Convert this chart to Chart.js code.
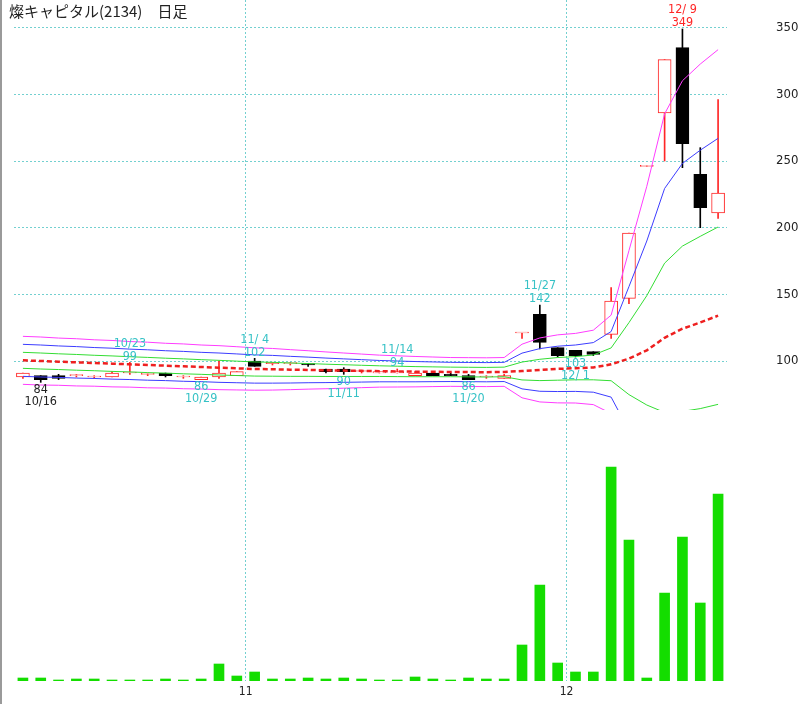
<!DOCTYPE html>
<html>
<head>
<meta charset="utf-8">
<script src="https://cdn.jsdelivr.net/npm/chart.js@4.4.1/dist/chart.umd.min.js"></script>
<style>
  html, body { margin: 0; padding: 0; background: #fff; }
  #wrap { position: relative; width: 800px; height: 704px; }
  #title { position: absolute; left: 9px; top: 0px; font: 15px "Noto Sans CJK JP", sans-serif; color: #222; }
</style>
</head>
<body>
<div id="wrap">
  <canvas id="chart" width="800" height="704"></canvas>
  <div id="title">燦キャピタル(2134)　日足</div>
</div>
<script>
// daily candles, 2014-10-15 .. 2014-12-11
const dates = ['10/15','10/16','10/17','10/20','10/21','10/22','10/23','10/24','10/27','10/28',
  '10/29','10/30','10/31','11/4','11/5','11/6','11/7','11/10','11/11','11/12',
  '11/13','11/14','11/17','11/18','11/19','11/20','11/21','11/25','11/26','11/27',
  '11/28','12/1','12/2','12/3','12/4','12/5','12/8','12/9','12/10','12/11'];
const opens  = [88,89,89,89,88,88,91,90,91,88, 86,88,89,100,98,98,98,94,94,92, 91,91,89,91,90,89,88,87,121,135, 110,108,107,120,147,246,286,335,240,211];
const highs  = [91,89,90,90,89,92,99,91,91,89, 88,100,92,102,99,99,98,94,95,93, 92,94,92,91,91,90,89,90,121,142, 110,108,107,155,196,246,326,349,260,296];
const lows   = [87,84,86,88,87,88,90,89,88,87, 86,87,89,96,97,97,96,91,90,91, 91,91,89,89,89,86,87,87,117,109, 103,103,104,117,143,246,250,245,200,207];
const closes = [91,86,87,89,88,91,91,90,89,88, 88,91,92,96,99,98,97,92,92,92, 92,92,91,89,89,86,88,89,121,114, 104,104,105,145,196,246,326,263,215,226];
const volumes = [3,3,1,2,2,1,1,1,2,1, 2,17,5,9,2,2,3,2,3,2, 1,1,4,2,1,3,2,2,36,96, 18,9,9,214,141,3,88,144,78,187];

// 25-day moving average and bollinger bands (+-1, 2, 3 sigma)
const ma25 = [100.5,100,99.5,99,98.5,98,97.5,97,96.5,96, 95.5,95,94.5,94,93.8,93.5,93.3,93,92.8,92.6, 92.4,92.2,92,91.9,91.8,91.7,91.6,91.8,92.5,93.3, 94.1,94.6,95.2,97.5,101.8,108,117.4,124.2,128.9,134];
const band1Up = [106.5,106,105.4,104.9,104.3,103.8,103.2,102.7,102.1,101.6, 101,100.5,99.9,99.3,99,98.5,98.1,97.6,97.2,96.8, 96.4,96.1,95.8,95.6,95.4,95.3,95.2,95.4,99.2,101.3, 102.6,103.3,104.5,109.8,128.8,149,173.4,186.2,193.5,200.5];
const band2Up = [112.5,112,111.3,110.8,110.1,109.6,108.9,108.4,107.7,107.2, 106.5,106,105.3,104.6,104.2,103.5,102.9,102.2,101.6,101, 100.4,100,99.6,99.3,99,98.9,98.8,99,105.9,109.3, 111.1,112,113.8,122.1,155.8,190,229.4,248.2,258.1,267];
const band3Up = [118.5,118,117.2,116.7,115.9,115.4,114.6,114.1,113.3,112.8, 112,111.5,110.7,109.9,109.4,108.5,107.7,106.8,106,105.2, 104.4,103.9,103.4,103,102.6,102.5,102.4,102.6,112.6,117.3, 119.6,120.7,123.1,134.4,182.8,231,285.4,310.2,322.7,333.5];
const band1Dn = [94.5,94,93.6,93.1,92.7,92.2,91.8,91.3,90.9,90.4, 90,89.5,89.1,88.7,88.6,88.5,88.5,88.4,88.4,88.4, 88.4,88.3,88.2,88.2,88.2,88.1,88,88.2,85.8,85.3, 85.6,85.9,85.9,85.2,74.8,67,61.4,62.2,64.3,67.5];
const band2Dn = [88.5,88,87.7,87.2,86.9,86.4,86.1,85.6,85.3,84.8, 84.5,84,83.7,83.4,83.4,83.5,83.7,83.8,84,84.2, 84.4,84.4,84.4,84.5,84.6,84.5,84.4,84.6,79.1,77.3, 77.1,77.2,76.6,72.9,47.8,26,5.4,0.2,-0.3,1];
const band3Dn = [82.5,82,81.8,81.3,81.1,80.6,80.4,79.9,79.7,79.2, 79,78.5,78.3,78.1,78.2,78.5,78.9,79.2,79.6,80, 80.4,80.5,80.6,80.8,81,80.9,80.8,81,72.4,69.3, 68.6,68.5,67.3,60.6,20.8,-15,-50.6,-61.8,-64.9,-65.5];

const priceTicks = [100, 150, 200, 250, 300, 350];
// candles that carry a date/price note
const highMarks = [6, 13, 21, 29, 37];
const lowMarks = [1, 10, 18, 25, 31];

const UP = '#ff2626';
const DOWN = '#000';
const CYAN = '#36c2c6';
const GRID = 'rgba(90,200,200,0.85)';
const NARROW = "'Liberation Sans Narrow', 'DejaVu Sans Condensed', sans-serif";

const isUp = (i) => closes[i] >= opens[i];
const fmtDate = (s) => {
    const [m, d] = s.split('/');
    return m + '/' + d.padStart(2, ' ');
};

function band(label, data, color, extra) {
    return Object.assign({
        type: 'line', label, data, yAxisID: 'y',
        borderColor: color, borderWidth: 1,
        pointRadius: 0, tension: 0, order: 0
    }, extra || {});
}

const noPad = (scale) => {
    scale.paddingTop = 0; scale.paddingBottom = 0;
    scale.paddingLeft = 0; scale.paddingRight = 0;
};

const notes = {
    id: 'notes',
    afterDatasetsDraw(chart) {
        const { ctx, scales: { x, y } } = chart;
        const maxI = highs.indexOf(Math.max(...highs));
        const minI = lows.indexOf(Math.min(...lows));
        ctx.save();
        ctx.font = '12.5px ' + NARROW;
        ctx.textAlign = 'center';
        ctx.textBaseline = 'middle';
        highMarks.forEach((i) => {
            const px = x.getPixelForValue(i);
            const py = y.getPixelForValue(highs[i]);
            ctx.fillStyle = i === maxI ? UP : CYAN;
            ctx.fillText(fmtDate(dates[i]), px, py - 19);
            ctx.fillText(String(highs[i]), px, py - 6);
        });
        lowMarks.forEach((i) => {
            const px = x.getPixelForValue(i);
            const py = y.getPixelForValue(lows[i]);
            ctx.fillStyle = i === minI ? '#222' : CYAN;
            ctx.fillText(String(lows[i]), px, py + 7);
            ctx.fillText(fmtDate(dates[i]), px, py + 19);
        });
        // month labels under the volume panel
        ctx.fillStyle = '#222';
        ctx.font = '12px ' + NARROW;
        for (let i = 1; i < dates.length; i++) {
            const m = dates[i].split('/')[0];
            if (m !== dates[i - 1].split('/')[0]) {
                const px = (x.getPixelForValue(i - 1) + x.getPixelForValue(i)) / 2;
                ctx.fillText(m, px, chart.chartArea.bottom + 11);
            }
        }
        ctx.fillStyle = '#9a9a9a';
        ctx.fillRect(0, 0, 2, chart.height);
        ctx.restore();
    }
};

new Chart(document.getElementById('chart'), {
    type: 'bar',
    data: {
        labels: dates,
        datasets: [
            band('+3σ', band3Up, '#ff3cff'),
            band('+2σ', band2Up, '#3c3cff'),
            band('+1σ', band1Up, '#33dd33'),
            band('25日平均', ma25, '#ee2020', { borderWidth: 2.5, borderDash: [5, 3] }),
            band('-1σ', band1Dn, '#33dd33'),
            band('-2σ', band2Dn, '#3c3cff'),
            band('-3σ', band3Dn, '#ff3cff'),
            {
                label: '実体',
                data: opens.map((o, i) => [o, closes[i]]),
                yAxisID: 'y',
                backgroundColor: opens.map((o, i) => (isUp(i) ? '#fff' : DOWN)),
                borderColor: opens.map((o, i) => (isUp(i) ? UP : DOWN)),
                borderWidth: 1,
                borderSkipped: false,
                barThickness: 13,
                minBarLength: 1,
                grouped: false,
                order: 1
            },
            {
                label: 'ヒゲ',
                data: lows.map((l, i) => [l, highs[i]]),
                yAxisID: 'y',
                backgroundColor: lows.map((l, i) => (isUp(i) ? UP : DOWN)),
                barThickness: 1,
                minBarLength: 1,
                grouped: false,
                order: 2
            },
            {
                label: '出来高',
                data: volumes,
                yAxisID: 'yv',
                backgroundColor: '#14dd00',
                barThickness: 10,
                grouped: false,
                order: 3
            }
        ]
    },
    options: {
        responsive: false,
        animation: false,
        layout: { padding: { left: 14, top: 0, right: 0, bottom: 23 } },
        plugins: { legend: { display: false }, tooltip: { enabled: false } },
        scales: {
            x: {
                type: 'category',
                offset: true,
                grid: {
                    offset: true,
                    drawTicks: false,
                    lineWidth: 1,
                    color: (c) => (c.index > 0 && c.index < dates.length &&
                        dates[c.index].split('/')[0] !== dates[c.index - 1].split('/')[0]) ? GRID : 'rgba(0,0,0,0)'
                },
                border: { display: false, dash: [2, 2] },
                ticks: { display: false },
                afterFit: (s) => { s.height = 0; noPad(s); }
            },
            y: {
                position: 'right',
                stack: 'panes',
                stackWeight: 410,
                min: 63.25,
                max: 370.75,
                grid: { color: GRID, drawTicks: false },
                border: { display: false, dash: [2, 2] },
                afterBuildTicks: (s) => { s.ticks = priceTicks.map((v) => ({ value: v })); },
                ticks: { padding: 49, color: '#222', font: { family: NARROW, size: 13 } },
                afterFit: (s) => { s.width = 73; noPad(s); }
            },
            yv: {
                position: 'right',
                stack: 'panes',
                stackWeight: 271,
                min: 0,
                max: 271,
                grid: { display: false },
                border: { display: false },
                ticks: { display: false },
                afterFit: (s) => { s.width = 73; noPad(s); }
            }
        }
    },
    plugins: [notes]
});
</script>
</body>
</html>
